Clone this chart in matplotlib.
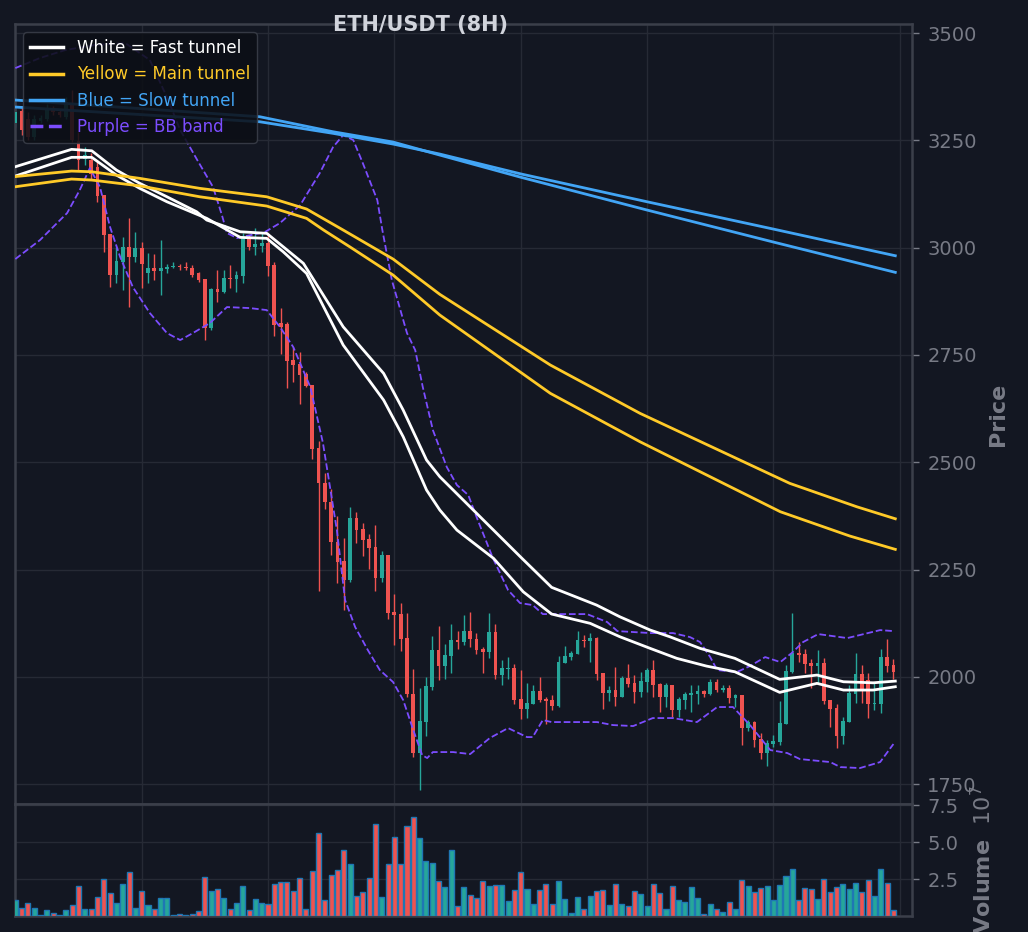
import numpy as np
import matplotlib
matplotlib.use('Agg')
import matplotlib.pyplot as plt
from matplotlib.lines import Line2D
from matplotlib.ticker import FormatStrFormatter

# ETH/USDT 8H candles
opens = [3290, 3318, 3300, 3258, 3296, 3300, 3325, 3316, 3305, 3338,
         3248, 3205.6, 3204, 3188.6, 3122.5, 3031.7, 2936.1, 2967.2, 3002.1, 2978.9,
         2998.3, 2940, 2951.6, 2946.2, 2949.3, 2954, 2957.9, 2955.5, 2953.2, 2940,
         2926.8, 2811.9, 2903.5, 2897.3, 2929.9, 2926.8, 2934.6, 3023.1, 3002.1, 3004.5,
         3010, 2959.4, 2823.5, 2822, 2738, 2728.7, 2705.4, 2679.8, 2532.2, 2450.6,
         2408, 2313.2, 2269.7, 2225.4, 2369.1, 2344, 2321, 2302.3, 2230.8, 2283.7,
         2152, 2146, 2090, 1960, 1823, 1895, 1977, 2062, 2024, 2049,
         2086, 2082, 2107, 2088, 2065, 2058, 2105, 2004, 2019, 2020,
         1949, 1925, 1937, 1967, 1948, 1946, 1932, 2033, 2047, 2054,
         2086, 2083, 2090, 2009, 1963, 1969, 1954, 1998, 1985, 1965,
         1988, 2016, 1983, 1954, 1981, 1922, 1946, 1957, 1960, 1967,
         1960, 1988, 1969, 1974, 1951, 1957, 1881, 1895, 1855, 1823,
         1843, 1847, 1890, 2011, 2055, 2053, 2032, 2025, 2032, 1946,
         1927, 1863, 1895, 1960, 2006, 1992, 1937, 1937, 2046, 2027]
highs = [3330, 3330, 3315, 3310, 3310, 3335, 3330, 3320, 3352, 3368,
         3270, 3235, 3220, 3200, 3123, 3032, 3002, 3025.5, 3068, 3037,
         3014, 2986.6, 2985, 3017.7, 2963, 2967, 2961, 2967, 2959.4, 2944,
         2927, 2905, 2947.8, 2947.8, 2959.4, 2945.5, 3033.2, 3029.3, 3044.9, 3033.2,
         3033.2, 2967.2, 2858.4, 2825.8, 2767.5, 2757.4, 2710.8, 2680, 2549, 2474,
         2436.7, 2375.3, 2322.5, 2394.7, 2384.6, 2357.5, 2332.6, 2353.6, 2293.8, 2284,
         2194, 2171, 2148, 2018, 1973, 2000, 2095, 2118, 2076, 2124,
         2107, 2144, 2150, 2101, 2070, 2148, 2122, 2039, 2045, 2029,
         2016, 1986, 1982, 1999, 1952, 1957, 2048, 2072, 2060, 2107,
         2098, 2103, 2093, 2009, 1979, 2022, 2002, 2029, 2004, 2012,
         2021, 2039, 1985, 1985, 1982, 1954, 1965, 1980, 1980, 1969,
         1996, 1994, 1982, 1982, 1961, 1958, 1899, 1897, 1868, 1853,
         1864, 1944, 2027, 2148, 2082, 2065, 2041, 2062, 2044, 1946,
         1936, 1907, 1980, 2055, 2027, 2008, 1985, 2064, 2087, 2041]
lows = [3280, 3262, 3250, 3250, 3290, 3295, 3308, 3305, 3300, 3245,
        3181, 3192, 3161, 3107, 2990.5, 2909, 2918, 2901, 2862, 2967,
        2905, 2918, 2924.5, 2889.5, 2941.5, 2951.6, 2949, 2947.8, 2932.3, 2920.6,
        2784.7, 2808, 2874, 2895, 2905, 2897.3, 2916.7, 2994.4, 2982.7, 2990,
        2934.5, 2794.7, 2752, 2672, 2687.5, 2635.5, 2676, 2506.6, 2200.6, 2391,
        2283.7, 2217.6, 2155.5, 2222, 2310.8, 2281.3, 2250.3, 2200, 2220, 2133.7,
        2074, 2060, 1954, 1812, 1736, 1863, 1969, 1992, 1996, 2008,
        2064, 2074, 2069, 2052, 2008, 2044, 1995, 1982, 1994, 1936,
        1901, 1905, 1936, 1942, 1891, 1923, 1930, 2031, 2039, 2053,
        2069, 2034, 1992, 1926, 1944, 1933, 1953, 1977, 1938, 1954,
        1965, 1952, 1919, 1930, 1907, 1907, 1925, 1919, 1936, 1954,
        1957, 1965, 1965, 1940, 1930, 1842, 1874, 1837, 1809, 1793,
        1837, 1841, 1889, 2010, 2035, 2008, 1973, 1985, 1936, 1884,
        1833, 1843, 1894, 1940, 1940, 1905, 1923, 1915, 2012, 1996]
closes = [3315, 3275, 3258, 3300, 3302, 3325, 3315, 3310, 3340, 3250,
          3204, 3215.7, 3171.5, 3120, 3029.3, 2936.1, 2968.8, 3002.1, 2978.9, 2998.3,
          2961, 2953.2, 2946.2, 2953.2, 2954, 2957.9, 2954, 2951.6, 2936.1, 2924.5,
          2811.9, 2902.7, 2897.3, 2929.9, 2926.8, 2936.1, 3023.1, 3002.1, 3007.6, 3011.5,
          2957.8, 2819.6, 2814, 2736.5, 2726.4, 2703.1, 2678.2, 2530.6, 2450.6, 2408,
          2313.2, 2268, 2225.4, 2369.1, 2342, 2318.6, 2300.8, 2230.8, 2283.7, 2149.3,
          2145, 2088, 1960, 1823, 1897, 1978, 2062, 2024, 2051, 2086,
          2082, 2107, 2087, 2062, 2058, 2105, 2004, 2021, 2020, 1946,
          1926, 1938, 1967, 1946, 1944, 1932, 2034, 2048, 2055, 2086,
          2084, 2090, 2006, 1963, 1969, 1954, 1998, 1984, 1965, 1990,
          2016, 1981, 1954, 1981, 1922, 1948, 1960, 1963, 1967, 1960,
          1988, 1969, 1974, 1951, 1957, 1881, 1895, 1853, 1823, 1846,
          1850, 1892, 2013, 2055, 2051, 2030, 2025, 2032, 1943, 1925,
          1863, 1897, 1962, 2006, 1968, 1937, 1940, 2046, 2025, 2012]
# volume in units of 1e7
volume = [1.06, 0.57, 0.9, 0.57, 0.05, 0.43, 0.2, 0.09, 0.43, 0.77,
          2.05, 0.5, 0.5, 1.31, 2.53, 1.58, 0.9, 2.19, 3.0, 0.57,
          1.71, 0.77, 0.5, 1.24, 1.24, 0.09, 0.16, 0.07, 0.16, 0.36,
          2.66, 1.71, 1.84, 1.24, 0.5, 0.9, 2.05, 0.43, 1.17, 0.9,
          0.84, 2.19, 2.33, 2.33, 1.72, 2.6, 0.5, 3.06, 5.63, 1.1,
          2.8, 3.13, 4.48, 3.54, 1.38, 1.65, 2.6, 6.24, 1.31, 3.54,
          5.36, 3.54, 6.1, 6.72, 5.29, 3.74, 3.6, 2.39, 1.99, 4.48,
          0.7, 1.99, 1.45, 1.24, 2.39, 2.05, 2.12, 2.12, 1.04, 1.78,
          3.0, 1.85, 0.84, 1.78, 2.19, 0.84, 2.34, 1.17, 0.23, 1.31,
          0.5, 1.38, 1.72, 1.78, 0.77, 2.19, 0.84, 0.7, 1.72, 1.51,
          0.7, 2.19, 1.58, 0.5, 2.05, 1.11, 0.97, 1.99, 1.24, 0.15,
          0.84, 0.5, 0.3, 0.95, 0.5, 2.46, 2.05, 1.65, 1.92, 2.05,
          1.1, 2.12, 2.73, 3.2, 1.1, 1.92, 1.85, 1.17, 2.53, 1.65,
          1.99, 2.19, 1.85, 2.26, 1.65, 2.46, 1.38, 3.2, 2.26, 0.43]

# tunnel lines (candle index, price)
fast_hi_x = [0, 8.9, 12.1, 16.0, 19.7, 24.0, 28.7, 30.3, 35.6, 39.8, 42.4, 45.6, 51.9, 58.3,
             61.4, 65.1, 67.2, 72.5, 80.2, 84.9, 92.0, 95.7, 100.5, 103.6, 108.4, 113.9,
             121.0, 126.9, 131.1, 135.8, 139.3]
fast_hi_y = [3188.5, 3229.0, 3225.7, 3180.8, 3149.8, 3118.5, 3083.6, 3064.3, 3037.0, 3033.3,
             3002.1, 2963.4, 2815.6, 2707.0, 2621.5, 2505.0, 2466.1, 2388.5, 2276.0, 2208.4,
             2167.2, 2139.8, 2108.9, 2093.3, 2066.2, 2043.0, 1994.0, 2004.0, 1988.4, 1986.0,
             1990.0]
fast_lo_x = [0, 8.9, 12.1, 16.0, 19.7, 24.0, 30.3, 35.6, 39.8, 42.4, 46.1, 51.9, 58.3, 61.4,
             65.1, 67.2, 69.9, 75.7, 80.4, 84.9, 91.0, 95.7, 100.5, 104.7, 109.4, 113.9,
             121.0, 126.9, 131.1, 135.8, 139.3]
fast_lo_y = [3166.8, 3210.4, 3210.4, 3169.1, 3138.1, 3106.9, 3068.2, 3023.9, 3021.6, 2990.4,
             2940.0, 2773.0, 2644.8, 2559.3, 2435.1, 2388.5, 2341.9, 2276.0, 2198.1, 2146.2,
             2124.5, 2093.3, 2066.2, 2043.0, 2025.0, 2011.7, 1963.7, 1984.7, 1969.1, 1969.1,
             1976.8]
main_hi_x = [0, 8.9, 12.1, 19.7, 29.2, 39.8, 46.1, 51.9, 59.8, 67.2, 84.7, 98.9, 122.6, 133.2, 139.3]
main_hi_y = [3165.6, 3178.4, 3176.8, 3161.4, 3138.1, 3118.5, 3090.0, 3041.0, 2973.4, 2891.1,
             2726.4, 2613.8, 2450.7, 2396.2, 2368.2]
main_lo_x = [0, 8.9, 12.1, 19.7, 29.2, 39.8, 46.1, 48.8, 53.0, 59.8, 67.2, 84.7, 98.9, 121.1,
             132.1, 139.3]
main_lo_y = [3141.9, 3159.8, 3157.5, 3143.9, 3118.5, 3096.9, 3068.2, 3041.0, 3001.4, 2936.1,
             2842.9, 2660.4, 2547.6, 2384.6, 2328.0, 2296.9]
slow_x = [0, 38.7, 50.3, 59.8, 67.2, 80.1, 100.0, 120.2, 139.3]
slow_a_y = [3343.9, 3305.0, 3270.0, 3246.0, 3215.7, 3163.7, 3087.6, 3012.3, 2942.4]
slow_b_y = [3327.6, 3293.3, 3266.3, 3241.4, 3218.0, 3171.5, 3106.9, 3042.6, 2981.1]

# Bollinger band (upper / lower)
bb_up_x = [0, 3.9, 7.9, 12.6, 17.4, 21.3, 24.2, 26.1, 28.8, 31.3, 32.7, 33.5, 35.1, 39.5,
           41.9, 45.1, 48.2, 50.3, 51.9, 53.5, 55.0, 57.3, 58.1, 59.6, 62.0, 63.3, 64.5,
           66.1, 68.3, 69.9, 71.7, 73.2, 75.6, 78.0, 79.9, 81.9, 83.5, 87.3, 90.5, 93.7,
           95.3, 100.5, 104.1, 106.8, 108.4, 110.0, 111.1, 114.2, 116.3, 118.7, 121.1,
           122.9, 124.7, 127.1, 131.7, 136.9, 139.0]
bb_up_y = [3418.4, 3441.8, 3460.4, 3472.1, 3476.7, 3437.1, 3343.9, 3274.0, 3204.1, 3141.2,
           3075.9, 3034.0, 3022.3, 3036.3, 3057.3, 3099.2, 3173.8, 3234.4, 3262.3, 3250.7,
           3197.1, 3110.9, 3041.0, 2924.4, 2800.9, 2761.3, 2675.1, 2574.9, 2488.7, 2446.8,
           2423.5, 2365.2, 2276.6, 2202.1, 2171.8, 2167.1, 2146.1, 2146.1, 2146.1, 2127.5,
           2106.5, 2101.9, 2101.9, 2092.5, 2080.9, 2045.9, 2015.7, 2011.0, 2025.0, 2045.9,
           2034.3, 2055.3, 2080.9, 2099.5, 2090.2, 2108.8, 2106.5]
bb_lo_x = [0, 3.9, 8.2, 10.2, 11.8, 13.4, 15.0, 16.6, 18.6, 21.3, 24.0, 26.1, 28.1, 30.8,
           33.5, 37.1, 39.8, 41.9, 44.0, 46.7, 48.7, 50.9, 52.2, 53.8, 55.8, 57.7, 59.8,
           61.4, 63.0, 64.4, 65.2, 66.1, 69.3, 72.0, 75.1, 78.0, 81.0, 81.9, 83.5, 84.9,
           92.1, 94.6, 97.8, 100.9, 104.1, 107.9, 111.1, 113.6, 116.3, 119.5, 122.2, 124.2,
           129.0, 130.6, 133.7, 136.9, 139.0]
bb_lo_y = [2973.4, 3017.6, 3080.6, 3134.2, 3185.4, 3141.2, 3047.9, 2978.0, 2908.1, 2847.5,
           2800.9, 2784.6, 2800.9, 2824.3, 2861.5, 2859.2, 2854.5, 2815.0, 2768.3, 2675.1,
           2544.6, 2341.9, 2178.8, 2115.8, 2062.3, 2015.7, 1987.7, 1945.8, 1875.8, 1817.6,
           1810.6, 1824.6, 1824.6, 1819.9, 1857.2, 1880.5, 1859.5, 1859.5, 1899.2, 1894.5,
           1894.5, 1887.5, 1885.2, 1903.8, 1903.8, 1894.5, 1929.5, 1929.5, 1887.5, 1829.3,
           1822.3, 1808.3, 1801.3, 1789.6, 1787.3, 1801.3, 1843.3]

bg = '#131722'
grid_c = '#262a35'
spine_c = '#3b3f4a'
text_c = '#787b86'
up_c, down_c = '#26a69a', '#ef5350'
white_c, yellow_c, blue_c, purple_c = '#ffffff', '#ffca28', '#42a5f5', '#7c4dff'

o = np.array(opens)
h = np.array(highs)
l = np.array(lows)
c = np.array(closes)
idx = np.arange(len(o))
cols = np.where(c >= o, up_c, down_c)

fig = plt.figure(figsize=(10.28, 9.32), dpi=100, facecolor=bg)
ax = fig.add_axes([0.0146, 0.1373, 0.8726, 0.8369])
axv = fig.add_axes([0.0146, 0.0172, 0.8726, 0.1201], sharex=ax)

# candles
ax.vlines(idx, l, h, colors=cols, lw=1, zorder=2)
ax.bar(idx, np.maximum(np.abs(c - o), 2.5), bottom=np.minimum(o, c), width=0.6,
       color=cols, zorder=3)

# tunnels + bands
ax.plot(fast_hi_x, fast_hi_y, color=white_c, lw=2, zorder=5)
ax.plot(fast_lo_x, fast_lo_y, color=white_c, lw=2, zorder=5)
ax.plot(main_hi_x, main_hi_y, color=yellow_c, lw=2, zorder=5)
ax.plot(main_lo_x, main_lo_y, color=yellow_c, lw=2, zorder=5)
ax.plot(slow_x, slow_a_y, color=blue_c, lw=2, zorder=5)
ax.plot(slow_x, slow_b_y, color=blue_c, lw=2, zorder=5)
ax.plot(bb_up_x, bb_up_y, color=purple_c, lw=1.3, ls='--', zorder=4)
ax.plot(bb_lo_x, bb_lo_y, color=purple_c, lw=1.3, ls='--', zorder=4)

# volume
axv.bar(idx, volume, width=0.8, color=cols, edgecolor='#1f77b4', linewidth=1, zorder=3)

for a in (ax, axv):
    a.set_facecolor(bg)
    for s in a.spines.values():
        s.set_color(spine_c)
        s.set_linewidth(1.8)
    a.grid(True, color=grid_c, lw=1)
    a.set_axisbelow(True)
    a.yaxis.tick_right()
    a.yaxis.set_label_position('right')
    a.tick_params(axis='y', colors=text_c, labelsize=14, length=5, width=1, pad=6)
    a.tick_params(axis='x', length=0, labelbottom=False)

ax.set_xticks(np.arange(0, 141, 20))
ax.set_xlim(-0.05, 141.95)
ax.set_ylim(1703.5, 3521)
ax.set_yticks(np.arange(1750, 3501, 250))
axv.set_ylim(0, 7.57)
axv.set_yticks([2.5, 5.0, 7.5])
axv.yaxis.set_major_formatter(FormatStrFormatter('%.1f'))

ax.set_ylabel('Price', color=text_c, fontsize=16, fontweight='bold', labelpad=8)
axv.set_ylabel('Volume  $10^{7}$', color=text_c, fontsize=16, fontweight='bold', labelpad=8)

fig.text(0.4086, 0.9667, 'ETH/USDT (8H)', ha='center', va='baseline', fontsize=15,
         fontweight='bold', color='#d1d4dc')

handles = [Line2D([], [], color=white_c, lw=2.5),
           Line2D([], [], color=yellow_c, lw=2.5),
           Line2D([], [], color=blue_c, lw=2.5),
           Line2D([], [], color=purple_c, lw=2.5, ls='--')]
labels = ['White = Fast tunnel', 'Yellow = Main tunnel', 'Blue = Slow tunnel', 'Purple = BB band']
leg = ax.legend(handles, labels, loc='upper left', fontsize=12, facecolor='#0c0f16',
                edgecolor=spine_c, framealpha=0.88, borderaxespad=0.5)
leg.set_zorder(10)
for t, cc in zip(leg.get_texts(), [white_c, yellow_c, blue_c, purple_c]):
    t.set_color(cc)

fig.savefig('out.png', dpi=100, facecolor=bg)
